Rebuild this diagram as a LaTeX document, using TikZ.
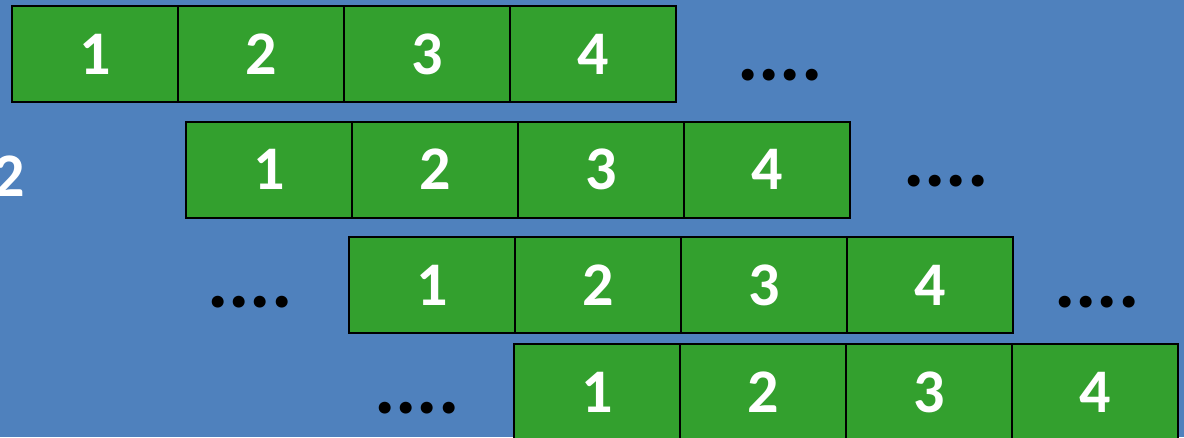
\documentclass[tikz,border=0pt]{standalone}
\usepackage{fontspec}
\setmainfont{Carlito}
\usetikzlibrary{positioning}
\definecolor{slide}{HTML}{4F81BD}
\definecolor{cellgreen}{HTML}{33A02E}
\tikzset{
  cell/.style={draw=black, line width=2pt, fill=cellgreen, outer sep=0pt, inner sep=0pt, minimum width=166pt, minimum height=96pt, text=white, font=\fontsize{62}{62}\selectfont\bfseries},
  dots/.style={anchor=base west, inner sep=0pt, font=\fontsize{80}{80}\selectfont\bfseries}}
\begin{document}
\begin{tikzpicture}[x=1pt, y=-1pt]
\useasboundingbox[fill=slide] (0,0) rectangle (1184,437);
\clip (0,0) rectangle (1184,437);
% row 1
\node[cell] (a1) at (95,54) {1};
\node[cell, right=0pt of a1] (a2) {2};
\node[cell, right=0pt of a2] (a3) {3};
\node[cell, right=0pt of a3] (a4) {4};
\node[dots] (ad) at (737,80) {....};
% row 2
\node[anchor=base west, inner sep=0pt, text=white, font=\fontsize{62}{62}\selectfont\bfseries] (lbl) at (-7,196) {2};
\node[cell] (b1) at (269,169.5) {1};
\node[cell, right=0pt of b1] (b2) {2};
\node[cell, right=0pt of b2] (b3) {3};
\node[cell, right=0pt of b3] (b4) {4};
\node[dots] (bd) at (903,186) {....};
% row 3
\node[dots] (cl) at (207,307) {....};
\node[cell] (c1) at (432,285) {1};
\node[cell, right=0pt of c1] (c2) {2};
\node[cell, right=0pt of c2] (c3) {3};
\node[cell, right=0pt of c3] (c4) {4};
\node[dots] (cd) at (1054,307) {....};
% row 4
\node[dots] (dl) at (374,413) {....};
\node[cell] (d1) at (597,392) {1};
\node[cell, right=0pt of d1] (d2) {2};
\node[cell, right=0pt of d2] (d3) {3};
\node[cell, right=0pt of d3] (d4) {4};
\end{tikzpicture}
\end{document}
